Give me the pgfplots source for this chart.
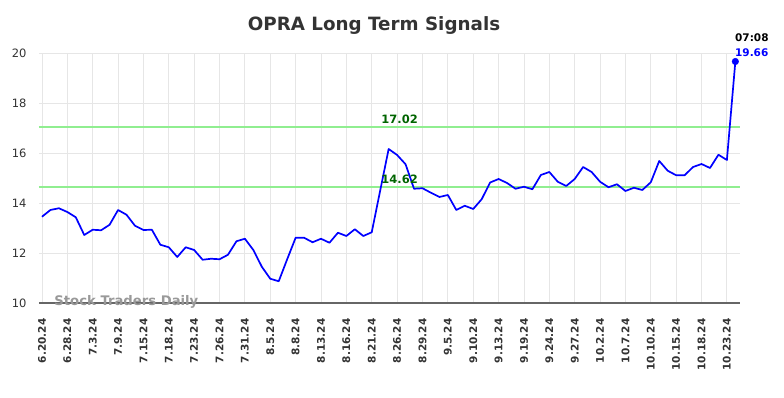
\documentclass[border=0pt]{standalone}
\usepackage{pgfplots}
\pgfplotsset{compat=1.18}
\usepackage{fontspec}
\setmainfont{DejaVu Sans}
\definecolor{titlegray}{HTML}{333333}
\definecolor{gridgray}{HTML}{E6E6E6}
\definecolor{axisgray}{HTML}{666666}
\definecolor{siggreen}{RGB}{144,238,144}
\definecolor{labgreen}{RGB}{0,100,0}
\definecolor{wmgray}{HTML}{999999}
\begin{document}
\begin{tikzpicture}
\useasboundingbox (0,0) rectangle (784pt,398pt);
\node[font=\bfseries\fontsize{18.3}{20}\selectfont, text=titlegray] at (374pt,372pt) {OPRA Long Term Signals};
\begin{axis}[
  at={(39pt,95pt)}, anchor=south west,
  scale only axis, width=701pt, height=250pt,
  xmin=-0.35, xmax=82.55, ymin=10, ymax=20,
  ytick={10,12,...,20},
  xtick={0,3,...,81},
  xticklabels={6.20.24,6.28.24,7.3.24,7.9.24,7.15.24,7.18.24,7.23.24,7.26.24,7.31.24,8.5.24,8.8.24,8.13.24,8.16.24,8.21.24,8.26.24,8.29.24,9.5.24,9.10.24,9.13.24,9.19.24,9.24.24,9.27.24,10.2.24,10.7.24,10.10.24,10.15.24,10.18.24,10.23.24},
  /pgf/number format/assume math mode=true,
  xticklabel style={rotate=90, anchor=east, font=\bfseries\fontsize{10.5}{12}\selectfont, text=titlegray, xshift=-12pt},
  yticklabel style={font=\fontsize{11.5}{13}\selectfont, text=titlegray, xshift=-9pt},
  major tick length=0pt,
  grid=major, major grid style={draw=gridgray, line width=0.9pt},
  separate axis lines,
  axis x line*=bottom, axis y line*=left,
  x axis line style={draw=axisgray, line width=1.2pt, -},
  y axis line style={draw=none},
  clip=false,
]
\addplot[draw=siggreen, color=siggreen, line width=2pt, mark=none] coordinates {(-0.35,17.02) (82.55,17.02)};
\addplot[draw=siggreen, color=siggreen, line width=2pt, mark=none] coordinates {(-0.35,14.62) (82.55,14.62)};
\addplot[blue, line width=1.7pt, line join=round, mark=none] coordinates {
(0,13.45) (1,13.72) (2,13.79) (3,13.64) (4,13.43) (5,12.72) (6,12.93) (7,12.91) (8,13.13) (9,13.72)
(10,13.53) (11,13.09) (12,12.92) (13,12.93) (14,12.33) (15,12.23) (16,11.84) (17,12.23) (18,12.12) (19,11.73)
(20,11.77) (21,11.75) (22,11.93) (23,12.47) (24,12.57) (25,12.12) (26,11.45) (27,10.97) (28,10.87) (29,11.75)
(30,12.61) (31,12.61) (32,12.43) (33,12.57) (34,12.41) (35,12.81) (36,12.68) (37,12.95) (38,12.68) (39,12.83)
(40,14.50) (41,16.16) (42,15.92) (43,15.55) (44,14.57) (45,14.59) (46,14.41) (47,14.24) (48,14.32) (49,13.72)
(50,13.89) (51,13.76) (52,14.15) (53,14.82) (54,14.96) (55,14.80) (56,14.57) (57,14.65) (58,14.55) (59,15.12)
(60,15.24) (61,14.85) (62,14.68) (63,14.96) (64,15.44) (65,15.24) (66,14.85) (67,14.63) (68,14.75) (69,14.48)
(70,14.61) (71,14.52) (72,14.83) (73,15.68) (74,15.29) (75,15.11) (76,15.11) (77,15.44) (78,15.56) (79,15.40)
(80,15.93) (81,15.72) (82,19.66)};
\addplot[only marks, mark=*, blue, mark size=3.3pt] coordinates {(82,19.66)};
\node[font=\bfseries\fontsize{11.5}{13}\selectfont, text=labgreen] at (axis cs:42.3,17.35) {17.02};
\node[font=\bfseries\fontsize{11.5}{13}\selectfont, text=labgreen] at (axis cs:42.3,14.95) {14.62};
\node[font=\bfseries\fontsize{10.5}{12}\selectfont, text=black, anchor=west, inner sep=0pt] at (axis cs:81.95,20.63) {07:08};
\node[font=\bfseries\fontsize{10.5}{12}\selectfont, text=blue, anchor=west, inner sep=0pt] at (axis cs:81.95,20.03) {19.66};
\node[font=\bfseries\fontsize{13.2}{15}\selectfont, text=wmgray, anchor=west, inner sep=0pt] at (axis cs:1.45,10.05) {Stock Traders Daily};
\end{axis}
\end{tikzpicture}
\end{document}
